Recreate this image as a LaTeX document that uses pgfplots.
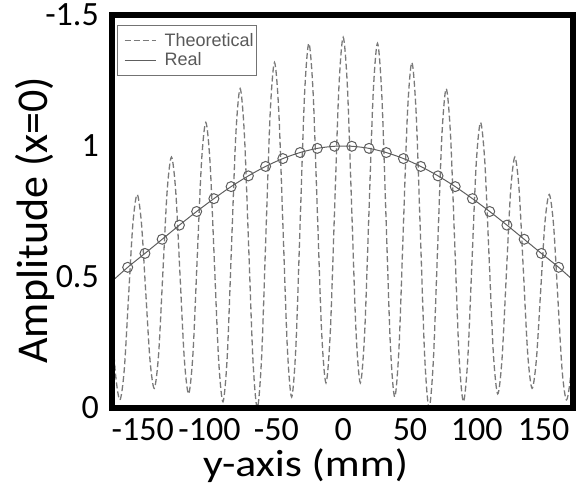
\documentclass[border=0pt]{standalone}
\usepackage{fontspec}
\setmainfont{Carlito}
\newfontfamily\legfont{Liberation Sans}
\usepackage{pgfplots}
\pgfplotsset{compat=1.18}

\definecolor{theo}{HTML}{7A7A7A}
\definecolor{realc}{HTML}{5E5E5E}

\begin{document}
\begin{tikzpicture}
\path[use as bounding box] (-112pt,-80pt) rectangle (468pt,408pt);
\begin{axis}[
    scale only axis,
    width=461pt, height=393pt,
    xmin=-173, xmax=172,
    ymin=0, ymax=1.5,
    axis on top,
    axis line style={line width=6pt},
    major tick length=0pt,
    xtick={-150,-100,-50,0,50,100,150},
    xticklabels={-150,-100,-50,0,50,100,150},
    ytick={0,0.5,1,1.5},
    yticklabels={0,0.5,1,-1.5},
    tick label style={font=\fontsize{34}{40}\selectfont, inner sep=0pt},
    xticklabel style={yshift=-10pt},
    yticklabel style={xshift=-13pt},
    xlabel={y-axis (mm)},
    ylabel={Amplitude (x=0)},
    xlabel style={font=\fontsize{38}{44}\selectfont, xscale=1.15,
        at={(axis description cs:0.42,-0.146)}, anchor=center},
    ylabel style={font=\fontsize{44}{50}\selectfont,
        at={(axis description cs:-0.167,0.478)}, anchor=center},
    legend style={at={(axis description cs:0.011,0.975)}, anchor=north west,
        draw=black!55, line width=1pt, text=black!65,
        font=\legfont\fontsize{18}{21}\selectfont,
        inner xsep=1pt, inner ysep=6pt, row sep=1pt, cells={anchor=west}},
    legend image code/.code={
        \draw[#1] (0pt,0pt) -- (31pt,0pt);
        \path[draw=none] (-6pt,0pt) -- (38pt,0pt);},
]
% Theoretical
\addplot[theo, line width=1.3pt, dash pattern=on 6pt off 3pt, smooth] coordinates {
(-176.69,0.577)(-173.48,0.351)(-170.26,0.124)
(-167.05,0.031)(-163.84,0.145)(-160.63,0.423)(-157.41,0.701)
(-154.20,0.815)(-150.99,0.707)(-147.78,0.445)(-144.56,0.183)
(-141.35,0.075)(-138.14,0.204)(-134.93,0.517)(-131.71,0.829)
(-128.50,0.958)(-125.29,0.826)(-122.08,0.506)(-118.86,0.186)
(-115.65,0.054)(-112.44,0.205)(-109.23,0.572)(-106.01,0.939)
(-102.80,1.090)(-99.59,0.934)(-96.38,0.557)(-93.16,0.180)
(-89.95,0.024)(-86.74,0.198)(-83.53,0.622)(-80.31,1.045)
(-77.10,1.219)(-73.89,1.041)(-70.68,0.610)(-67.46,0.178)
(-64.25,0.000)(-61.04,0.193)(-57.83,0.660)(-54.61,1.126)
(-51.40,1.319)(-48.19,1.133)(-44.98,0.681)(-41.76,0.228)
(-38.55,0.042)(-35.34,0.239)(-32.13,0.717)(-28.91,1.195)
(-25.70,1.392)(-22.49,1.203)(-19.28,0.744)(-16.06,0.285)
(-12.85,0.096)(-9.64,0.289)(-6.43,0.756)(-3.21,1.222)
(0,1.415)
(3.21,1.222)(6.43,0.756)(9.64,0.289)(12.85,0.096)
(16.06,0.285)(19.28,0.744)(22.49,1.203)(25.70,1.392)
(28.91,1.195)(32.13,0.717)(35.34,0.239)(38.55,0.042)
(41.76,0.228)(44.98,0.681)(48.19,1.133)(51.40,1.319)
(54.61,1.126)(57.83,0.660)(61.04,0.193)(64.25,0.000)
(67.46,0.178)(70.68,0.610)(73.89,1.041)(77.10,1.219)
(80.31,1.045)(83.53,0.622)(86.74,0.198)(89.95,0.024)
(93.16,0.180)(96.38,0.557)(99.59,0.934)(102.80,1.090)
(106.01,0.939)(109.23,0.572)(112.44,0.205)(115.65,0.054)
(118.86,0.186)(122.08,0.506)(125.29,0.826)(128.50,0.958)
(131.71,0.829)(134.93,0.517)(138.14,0.204)(141.35,0.075)
(144.56,0.183)(147.78,0.445)(150.99,0.707)(154.20,0.815)
(157.41,0.701)(160.63,0.423)(163.84,0.145)(167.05,0.031)
(170.26,0.124)(173.48,0.351)(176.69,0.577)
};
\addlegendentry{Theoretical}
% Real
\addplot[realc, line width=1pt, smooth] coordinates {
(-176,0.47)(-161.25,0.537)(-148.35,0.590)(-135.45,0.644)(-122.55,0.698)
(-109.65,0.750)(-96.75,0.799)(-83.85,0.845)(-70.95,0.886)(-58.05,0.922)
(-45.15,0.952)(-32.25,0.975)(-19.35,0.991)(-6.45,0.999)
(6.45,0.999)(19.35,0.991)(32.25,0.975)(45.15,0.952)(58.05,0.922)
(70.95,0.886)(83.85,0.845)(96.75,0.799)(109.65,0.750)(122.55,0.698)
(135.45,0.644)(148.35,0.590)(161.25,0.537)(176,0.47)
};
\addlegendentry{Real}
\addplot[realc, line width=1pt, only marks, mark=o, mark size=5pt, forget plot] coordinates {
(-161.25,0.537)(-148.35,0.590)(-135.45,0.644)(-122.55,0.698)
(-109.65,0.750)(-96.75,0.799)(-83.85,0.845)(-70.95,0.886)(-58.05,0.922)
(-45.15,0.952)(-32.25,0.975)(-19.35,0.991)(-6.45,0.999)
(6.45,0.999)(19.35,0.991)(32.25,0.975)(45.15,0.952)(58.05,0.922)
(70.95,0.886)(83.85,0.845)(96.75,0.799)(109.65,0.750)(122.55,0.698)
(135.45,0.644)(148.35,0.590)(161.25,0.537)
};
\end{axis}
\end{tikzpicture}
\end{document}
